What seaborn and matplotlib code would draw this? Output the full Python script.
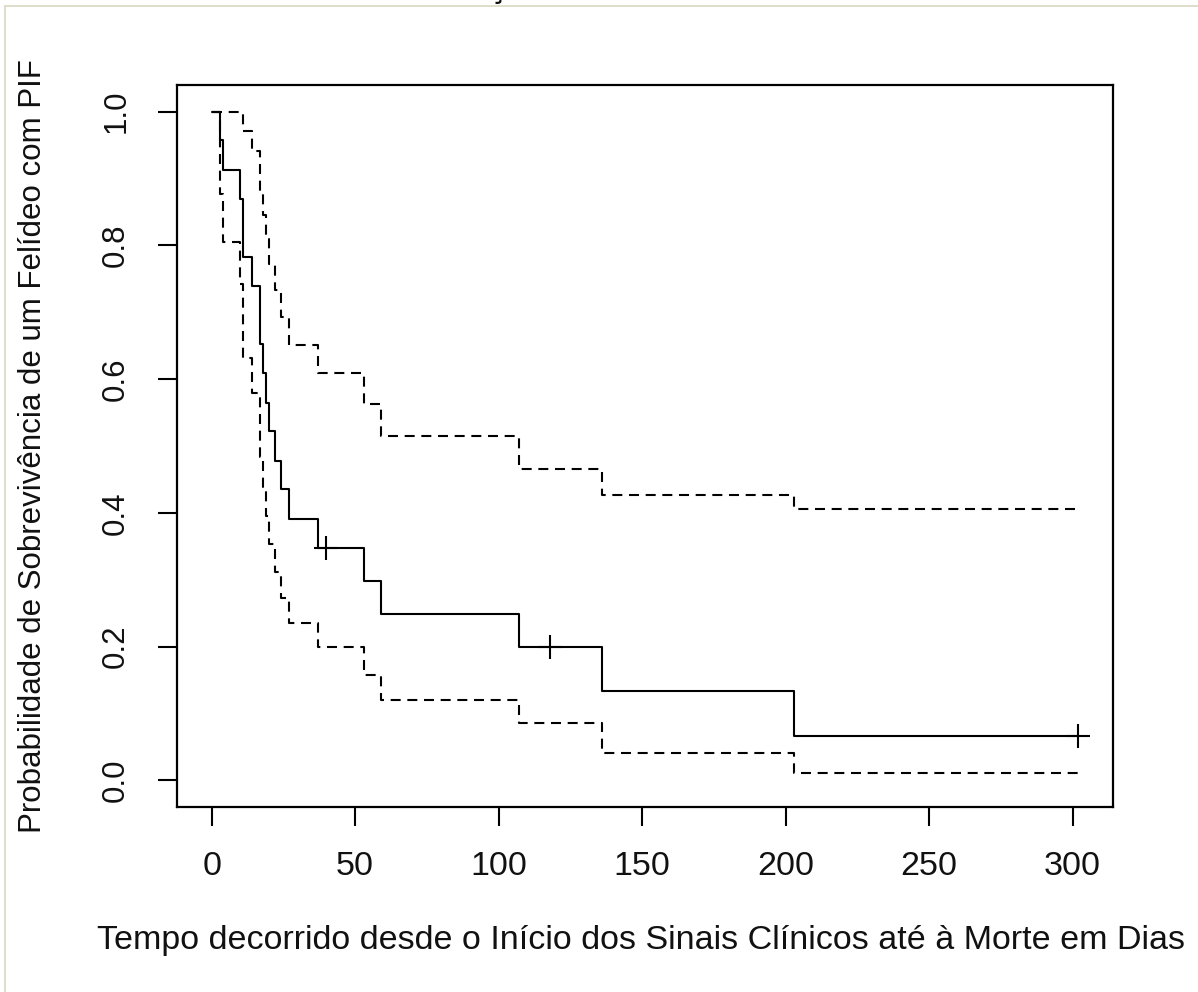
import matplotlib
matplotlib.use("Agg")
import matplotlib.pyplot as plt
from matplotlib.lines import Line2D
import seaborn as sns
import pandas as pd

# ---- data (Kaplan-Meier curve with 95% bands) ----
times = [0, 3, 4, 10, 11, 14, 17, 18, 19, 20, 22, 24, 27, 37, 53, 59, 107, 136, 203, 302]
surv = [1.0, 0.957, 0.913, 0.870, 0.783, 0.739, 0.652, 0.609, 0.565, 0.522,
        0.478, 0.435, 0.391, 0.348, 0.298, 0.248, 0.199, 0.133, 0.066, 0.066]
upper = [1.0, 1.0, 1.0, 1.0, 0.971, 0.942, 0.879, 0.845, 0.809, 0.772,
         0.733, 0.693, 0.651, 0.609, 0.563, 0.515, 0.466, 0.426, 0.406, 0.406]
lower = [1.0, 0.877, 0.805, 0.742, 0.631, 0.580, 0.484, 0.439, 0.395, 0.353,
         0.312, 0.273, 0.235, 0.199, 0.158, 0.120, 0.085, 0.041, 0.011, 0.011]
censor_times = [40, 118, 302]
censor_surv = [0.348, 0.199, 0.066]

x_ticks = [0, 50, 100, 150, 200, 250, 300]
y_ticks = [0.0, 0.2, 0.4, 0.6, 0.8, 1.0]
y_tick_labels = ["0.0", "0.2", "0.4", "0.6", "0.8", "1.0"]
x_label = "Tempo decorrido desde o Início dos Sinais Clínicos até à Morte em Dias"
y_label = "Probabilidade de Sobrevivência de um Felídeo com PIF"
clipped_title = "ç"

sns.set_theme(style="white")
plt.rcParams["font.family"] = ["Liberation Sans", "DejaVu Sans"]

df = pd.DataFrame({"t": times, "s": surv, "up": upper, "lo": lower})
cens = pd.DataFrame({"t": censor_times, "s": censor_surv})

fig = plt.figure(figsize=(11.98, 9.92), dpi=100)
ax = fig.add_axes([177 / 1198, 1 - 807 / 992, (1113 - 177) / 1198, (807 - 85) / 992])
ax.set_facecolor("white")

lw = 1.5
sns.lineplot(data=df, x="t", y="s", ax=ax, color="black", lw=lw,
             drawstyle="steps-post", sort=False, estimator=None)
for col in ["up", "lo"]:
    sns.lineplot(data=df, x="t", y=col, ax=ax, color="black", lw=lw,
                 drawstyle="steps-post", sort=False, estimator=None,
                 dashes=False, linestyle=(0, (4.8, 3.2)))
sns.scatterplot(data=cens, x="t", y="s", ax=ax, marker="+", s=320,
                color="black", linewidth=1.5, zorder=5)

xmax = max(times)
ax.set_xlim(-0.04 * xmax, xmax * 1.04)
ax.set_ylim(-0.04, 1.04)
ax.set_xticks(x_ticks)
ax.set_xticklabels([str(v) for v in x_ticks])
ax.set_yticks(y_ticks)
ax.set_yticklabels(y_tick_labels, rotation=90, va="center")

for sp in ax.spines.values():
    sp.set_color("black")
    sp.set_linewidth(1.6)

fs_h = 24.5   # horizontal text (reference is slightly wide)
fs_v = 22.5   # rotated text
ax.tick_params(axis="both", which="both", direction="out", length=14, width=1.5,
               color="black", labelcolor="#111111",
               bottom=True, left=True)
ax.tick_params(axis="x", pad=18, labelsize=fs_h)
ax.tick_params(axis="y", pad=19, labelsize=fs_v)

ax.set_xlabel(x_label, fontsize=fs_h, color="#111111", va="center")
ax.set_ylabel(y_label, fontsize=fs_v, color="#111111", va="center")
ax.xaxis.set_label_coords(0.4957, (807 - 941) / 722)
ax.yaxis.set_label_coords((33 - 177) / 936, 0.5)

# fragment of the clipped title at the very top
fig.text(497 / 1198, 1 + 3 / 992, clipped_title, fontsize=fs_h, color="#111111",
         ha="center", va="baseline")

# thin beige frame of the original screenshot
fig.add_artist(Line2D([5 / 1198, 1], [1 - 6 / 992, 1 - 6 / 992], color="#d9d8c3", lw=1.2))
fig.add_artist(Line2D([5 / 1198, 5 / 1198], [0, 1 - 6 / 992], color="#d9d8c3", lw=1.2))

fig.savefig("out.png", dpi=100, facecolor="white")
